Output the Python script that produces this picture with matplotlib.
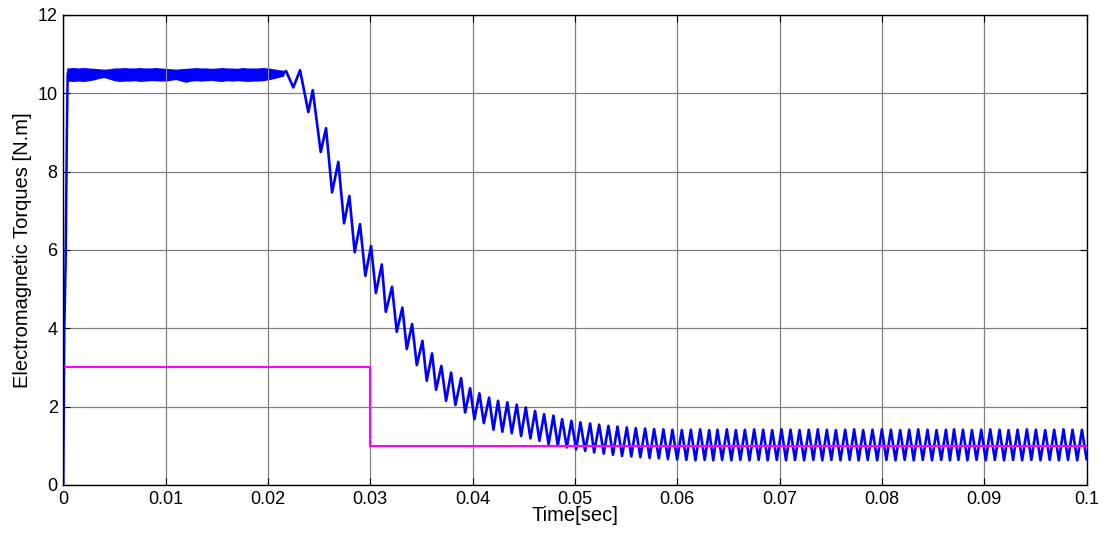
import matplotlib
matplotlib.use('Agg')
from matplotlib import pyplot as plt

# start-up rise of the electromagnetic torque
rise_t = [0.0, 0.0001, 0.00023, 0.00036, 0.00043]
rise_y = [0.0, 3.9, 5.7, 9.15, 10.5]

# ripple band while the torque is held near 10.5 N.m
band_t = [0.0004, 0.001, 0.0015, 0.002, 0.0025, 0.003, 0.0035, 0.004, 0.0045, 0.005,
          0.0055, 0.006, 0.0065, 0.007, 0.0075, 0.008, 0.0085, 0.009, 0.0095, 0.010,
          0.0105, 0.011, 0.0115, 0.012, 0.0125, 0.013, 0.0135, 0.014, 0.0145, 0.015,
          0.0155, 0.016, 0.0165, 0.017, 0.0175, 0.018, 0.0185, 0.019, 0.0195, 0.020,
          0.0205, 0.021, 0.0215]
band_hi = [10.63, 10.64, 10.63, 10.64, 10.63, 10.62, 10.61, 10.60, 10.61, 10.63,
           10.63, 10.64, 10.63, 10.63, 10.64, 10.63, 10.63, 10.64, 10.63, 10.62,
           10.61, 10.60, 10.61, 10.62, 10.63, 10.64, 10.63, 10.63, 10.62, 10.63,
           10.64, 10.63, 10.63, 10.62, 10.64, 10.63, 10.63, 10.63, 10.64, 10.63,
           10.61, 10.59, 10.57]
band_lo = [10.33, 10.32, 10.33, 10.32, 10.34, 10.36, 10.40, 10.42, 10.38, 10.34,
           10.32, 10.33, 10.33, 10.34, 10.32, 10.33, 10.34, 10.34, 10.33, 10.33,
           10.35, 10.37, 10.33, 10.30, 10.33, 10.34, 10.33, 10.34, 10.35, 10.33,
           10.32, 10.34, 10.33, 10.34, 10.33, 10.32, 10.33, 10.33, 10.34, 10.36,
           10.39, 10.42, 10.46]

# turning points after the load change (peaks)
peak_t = [0.02177, 0.02314, 0.02438, 0.02568, 0.02688, 0.02796, 0.02900, 0.03008,
          0.03113, 0.03213, 0.03314, 0.03409, 0.03510, 0.03604, 0.03695, 0.03790,
          0.03888, 0.03976, 0.04067, 0.04161, 0.04249, 0.04340, 0.04432, 0.04520,
          0.04611, 0.04699, 0.04790, 0.04875, 0.04966, 0.05054, 0.05149, 0.05237,
          0.05328, 0.05416, 0.05507, 0.05595, 0.05686, 0.05774, 0.05865, 0.05953,
          0.06045, 0.06133, 0.06224, 0.06312, 0.06393, 0.06485, 0.06573, 0.06661,
          0.06752, 0.06840, 0.06928, 0.07019, 0.07107, 0.07195, 0.07286, 0.07374,
          0.07462, 0.07550, 0.07641, 0.07729, 0.07817, 0.07908, 0.08000, 0.08088,
          0.08179, 0.08267, 0.08355, 0.08446, 0.08534, 0.08626, 0.08705, 0.08792,
          0.08880, 0.08971, 0.09059, 0.09150, 0.09238, 0.09326, 0.09417, 0.09505,
          0.09596, 0.09684, 0.09775, 0.09863, 0.09955]
peak_y = [10.57, 10.59, 10.08, 9.11, 8.25, 7.38, 6.66, 6.10,
          5.63, 5.06, 4.53, 4.11, 3.68, 3.36, 3.04, 2.87,
          2.73, 2.47, 2.34, 2.23, 2.15, 2.11, 2.05, 1.98,
          1.89, 1.81, 1.77, 1.68, 1.64, 1.60, 1.57, 1.54,
          1.51, 1.49, 1.47, 1.45, 1.44, 1.43, 1.42, 1.41,
          1.40, 1.41, 1.42, 1.40, 1.41, 1.42, 1.40, 1.41,
          1.42, 1.41, 1.40, 1.42, 1.41, 1.40, 1.41, 1.42,
          1.41, 1.40, 1.41, 1.42, 1.40, 1.41, 1.42, 1.41,
          1.40, 1.41, 1.42, 1.41, 1.40, 1.41, 1.42, 1.41,
          1.40, 1.41, 1.42, 1.41, 1.40, 1.41, 1.42, 1.41,
          1.40, 1.41, 1.42, 1.41, 1.41]

# turning points after the load change (troughs)
trough_t = [0.02248, 0.02395, 0.02516, 0.02627, 0.02744, 0.02848, 0.02952, 0.03055,
            0.03152, 0.03259, 0.03357, 0.03455, 0.03552, 0.03643, 0.03741, 0.03832,
            0.03927, 0.04018, 0.04110, 0.04204, 0.04291, 0.04383, 0.04474, 0.04565,
            0.04653, 0.04743, 0.04833, 0.04921, 0.05012, 0.05100, 0.05188, 0.05282,
            0.05372, 0.05461, 0.05551, 0.05640, 0.05730, 0.05820, 0.05909, 0.05999,
            0.06089, 0.06178, 0.06268, 0.06352, 0.06439, 0.06529, 0.06617, 0.06706,
            0.06796, 0.06884, 0.06973, 0.07063, 0.07151, 0.07240, 0.07330, 0.07418,
            0.07506, 0.07595, 0.07685, 0.07773, 0.07862, 0.07954, 0.08044, 0.08133,
            0.08223, 0.08311, 0.08400, 0.08490, 0.08580, 0.08665, 0.08748, 0.08836,
            0.08925, 0.09015, 0.09104, 0.09194, 0.09282, 0.09371, 0.09461, 0.09550,
            0.09640, 0.09730, 0.09819, 0.09909, 0.10000]
trough_y = [10.15, 9.52, 8.50, 7.47, 6.68, 5.94, 5.34, 4.90,
            4.42, 3.91, 3.47, 3.06, 2.66, 2.43, 2.15, 2.04,
            1.85, 1.68, 1.58, 1.41, 1.36, 1.32, 1.25, 1.19,
            1.13, 1.04, 1.00, 0.96, 0.91, 0.87, 0.83, 0.80,
            0.77, 0.74, 0.73, 0.71, 0.69, 0.68, 0.66, 0.65,
            0.64, 0.63, 0.64, 0.63, 0.64, 0.63, 0.64, 0.63,
            0.64, 0.63, 0.64, 0.63, 0.64, 0.63, 0.64, 0.63,
            0.64, 0.63, 0.64, 0.63, 0.64, 0.63, 0.64, 0.63,
            0.64, 0.63, 0.64, 0.63, 0.64, 0.63, 0.64, 0.63,
            0.64, 0.63, 0.64, 0.63, 0.64, 0.63, 0.64, 0.63,
            0.64, 0.63, 0.64, 0.63, 0.66]

# load torque reference
load_t = [0.0, 0.03, 0.1]
load_y = [3.0, 1.0, 1.0]

xticks = [0, 0.01, 0.02, 0.03, 0.04, 0.05, 0.06, 0.07, 0.08, 0.09, 0.1]
xticklabels = ['0', '0.01', '0.02', '0.03', '0.04', '0.05', '0.06', '0.07', '0.08', '0.09', '0.1']
yticks = [0, 2, 4, 6, 8, 10, 12]

plt.rcParams['font.family'] = ['Liberation Sans', 'DejaVu Sans']

fig = plt.figure(figsize=(11.06, 5.35), dpi=100)
ax = fig.add_axes([0.0572, 0.0935, 0.9252, 0.8785])

# merge peaks and troughs into one time-ordered trace
turns = sorted(list(zip(peak_t, peak_y)) + list(zip(trough_t, trough_y)))
tail_t = [band_t[-1]] + [p[0] for p in turns]
tail_y = [(band_hi[-1] + band_lo[-1]) / 2] + [p[1] for p in turns]

ax.plot(rise_t, rise_y, color='#0000ff', lw=1.8)
ax.fill_between(band_t, band_lo, band_hi, color='#0000ff', lw=1.0, edgecolor='#0000ff')
ax.plot(tail_t, tail_y, color='#0000ff', lw=1.9, solid_joinstyle='round')
ax.plot(load_t, load_y, color='#ff00ff', lw=1.5, drawstyle='steps-post')

ax.set_xlim(0, 0.1)
ax.set_ylim(0, 12)
ax.set_xticks(xticks)
ax.set_xticklabels(xticklabels)
ax.set_yticks(yticks)
ax.grid(True, color='#808080', lw=0.9)
ax.tick_params(direction='in', top=True, right=True, length=5, labelsize=13, pad=4)
for s in ax.spines.values():
    s.set_linewidth(1.0)
ax.set_xlabel('Time[sec]', fontsize=14.5, labelpad=-1)
ax.set_ylabel('Electromagnetic Torques [N.m]', fontsize=14.5, labelpad=4)

plt.savefig('out.png')
